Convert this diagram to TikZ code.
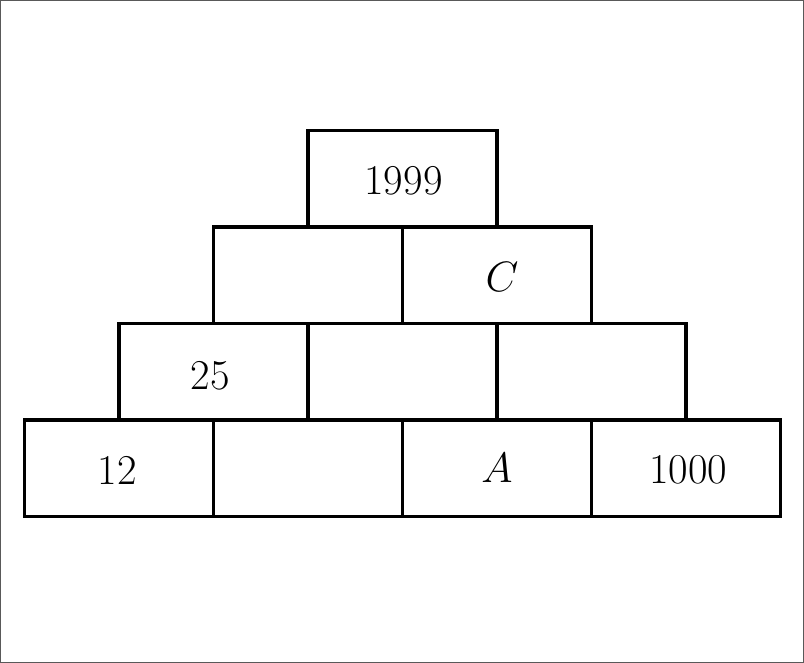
\RequirePackage{fix-cm}
\documentclass[tikz,border=0pt]{standalone}
\newcommand\shiftlbl[3]{\kern#1\raisebox{#2}{#3}\kern-#1}
\begin{document}
\begin{tikzpicture}[x=1pt,y=-1pt,
  brick/.style={draw=black,line width=3.3pt,rectangle,minimum width=189pt,minimum height=96.5pt,
    inner sep=0pt,text height=32.5pt,text depth=0pt,font=\fontsize{42.5}{50}\selectfont}]
\useasboundingbox (0,0) rectangle (804,663);
\draw[gray!70!black,line width=1.4pt] (0.7,0.7) rectangle (803.3,662.3);
% bottom row
\node[brick] (b1) at (119,468.25) {\shiftlbl{-1.5pt}{0pt}{12}};
\node[brick] (b2) at (308,468.25) {};
\node[brick] (b3) at (497,468.25) {\shiftlbl{0pt}{2pt}{$A$}};
\node[brick] (b4) at (686,468.25) {\shiftlbl{2.3pt}{1pt}{1000}};
% second row
\node[brick] (c1) at (213.5,371.75) {\shiftlbl{-3pt}{-1.5pt}{25}};
\node[brick] (c2) at (402.5,371.75) {};
\node[brick] (c3) at (591.5,371.75) {};
% third row
\node[brick] (d1) at (308,275.25) {};
\node[brick] (d2) at (497,275.25) {\shiftlbl{5pt}{0pt}{$C$}};
% top
\node[brick] (e1) at (402.5,178.75) {\shiftlbl{1pt}{0pt}{1999}};
\end{tikzpicture}
\end{document}
